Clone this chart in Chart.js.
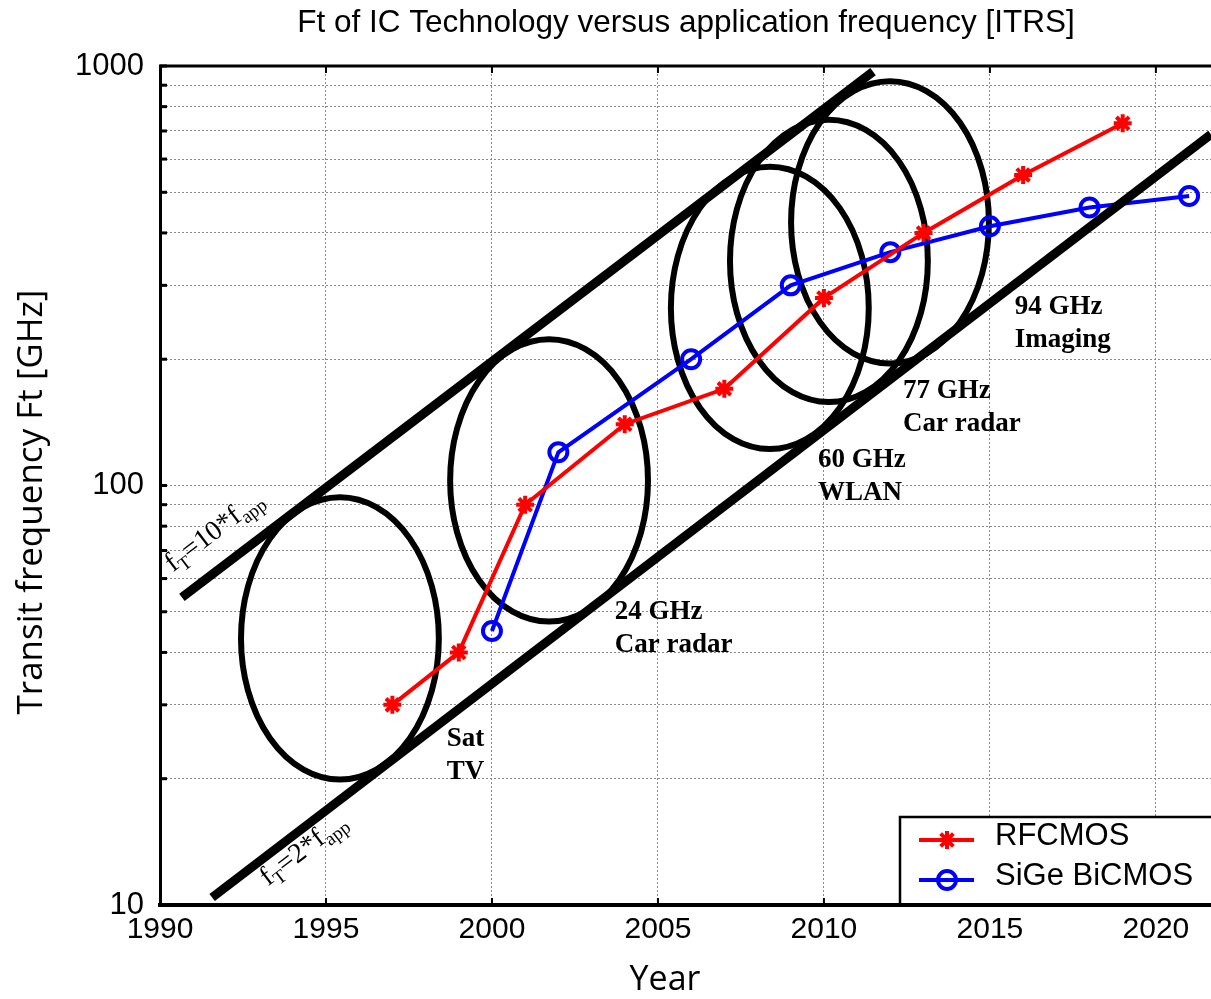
<!DOCTYPE html>
<html>
<head>
<meta charset="utf-8">
<title>Ft of IC Technology versus application frequency</title>
<script src="https://cdn.jsdelivr.net/npm/chart.js@4.4.1/dist/chart.umd.min.js"></script>
<style>
    html, body { margin: 0; padding: 0; background: #fff; }
    #wrap { width: 1211px; height: 999px; }
</style>
</head>
<body>
<div id="wrap"><canvas id="ftChart" width="1211" height="999"></canvas></div>
<script>
// ---- data ----
const rfYears = [1997, 1999, 2001, 2004, 2007, 2010, 2013, 2016, 2019];
const rfFt = [30, 40, 90, 140, 170, 280, 400, 550, 730];

const sigeYears = [2000, 2002, 2006, 2009, 2012, 2015, 2018, 2021];
const sigeFt = [45, 120, 200, 300, 360, 415, 460, 490];

// fT = 10*fapp and fT = 2*fapp guide lines (end points)
const upperYears = [1990.66, 2011.48];
const upperFt = [54.1, 970];
const lowerYears = [1991.57, 2021.66];
const lowerFt = [10.42, 687];

// application bands drawn as ellipses (centre year, centre Ft)
const bandYears = [1995.42, 2001.72, 2008.37, 2010.15, 2011.99];
const bandFt = [43.2, 102.8, 265, 343, 424];
const bandHalfYears = 2.98;
const bandSpread = 2.17;

// band labels
const bandText = [['Sat', 'TV'], ['24 GHz', 'Car radar'], ['60 GHz', 'WLAN'], ['77 GHz', 'Car radar'], ['94 GHz', 'Imaging']];
const bandTextYears = [1998.64, 2003.70, 2009.82, 2012.38, 2015.75];
const bandTextFt = [24.8, 50, 115, 168, 266];

// axes
const xTicks = [1990, 1995, 2000, 2005, 2010, 2015, 2020];
const yGrid = [10, 20, 30, 40, 50, 60, 70, 80, 90, 100, 200, 300, 400, 500, 600, 700, 800, 900, 1000];
const yTickLabels = [10, 100, 1000];

const SANS = '"Liberation Sans", Arial, sans-serif';
const SERIF = '"Liberation Serif", "Times New Roman", serif';

function drawStar(ctx, x, y, r) {
    for (let k = 0; k < 4; k++) {
        const a = k * Math.PI / 4;
        ctx.beginPath();
        ctx.moveTo(x - r * Math.cos(a), y - r * Math.sin(a));
        ctx.lineTo(x + r * Math.cos(a), y + r * Math.sin(a));
        ctx.stroke();
    }
}

const bandsPlugin = {
    id: 'bands',
    beforeDatasetsDraw(chart) {
        const { ctx, chartArea, scales: { x, y } } = chart;
        ctx.save();
        ctx.beginPath();
        ctx.rect(chartArea.left, chartArea.top, chartArea.width, chartArea.height);
        ctx.clip();
        ctx.strokeStyle = '#000';
        ctx.lineWidth = 6;
        bandYears.forEach((yr, i) => {
            const cx = x.getPixelForValue(yr);
            const cy = y.getPixelForValue(bandFt[i]);
            const rx = x.getPixelForValue(yr + bandHalfYears) - cx;
            const ry = cy - y.getPixelForValue(bandFt[i] * bandSpread);
            ctx.beginPath();
            ctx.ellipse(cx, cy, rx, ry, 0, 0, Math.PI * 2);
            ctx.stroke();
        });
        ctx.restore();
    },
    afterDatasetsDraw(chart) {
        const { ctx, scales: { x, y } } = chart;
        ctx.save();
        // band labels
        ctx.fillStyle = '#000';
        ctx.font = 'bold 27px ' + SERIF;
        ctx.textBaseline = 'middle';
        ctx.textAlign = 'left';
        bandText.forEach((lines, i) => {
            const px = x.getPixelForValue(bandTextYears[i]);
            const py = y.getPixelForValue(bandTextFt[i]);
            lines.forEach((t, j) => ctx.fillText(t, px, py + j * 33));
        });

        // rotated guide line labels
        const guideLabel = (years, ft, ax, af, factor) => {
            const x1 = x.getPixelForValue(years[0]), y1 = y.getPixelForValue(ft[0]);
            const x2 = x.getPixelForValue(years[1]), y2 = y.getPixelForValue(ft[1]);
            const ang = Math.atan2(y2 - y1, x2 - x1);
            ctx.save();
            ctx.translate(x.getPixelForValue(ax), y.getPixelForValue(af));
            ctx.rotate(ang);
            ctx.textBaseline = 'alphabetic';
            let cx = 0;
            const parts = [['f', 0], ['T', 1], ['=' + factor + '*f', 0], ['app', 1]];
            parts.forEach(([t, sub]) => {
                ctx.font = (sub ? '19px ' : '28px ') + SERIF;
                ctx.fillText(t, cx, sub ? 6 : 0);
                cx += ctx.measureText(t).width;
            });
            ctx.restore();
        };
        guideLabel(upperYears, upperFt, 1990.39, 62, '10');
        guideLabel(lowerYears, lowerFt, 1993.25, 11.07, '2');
        ctx.restore();
    },
    afterDraw(chart) {
        const { ctx, chartArea, scales: { x, y } } = chart;
        ctx.save();
        // top frame
        ctx.strokeStyle = '#000';
        ctx.lineWidth = 3;
        ctx.beginPath();
        ctx.moveTo(chartArea.left - 1, chartArea.top);
        ctx.lineTo(chartArea.right, chartArea.top);
        ctx.stroke();

        // inner tick marks
        ctx.lineWidth = 3;
        y.ticks.forEach(t => {
            const py = y.getPixelForValue(t.value);
            ctx.beginPath();
            ctx.moveTo(chartArea.left, py);
            ctx.lineTo(chartArea.left + 7, py);
            ctx.stroke();
        });
        ctx.lineWidth = 2;
        x.ticks.forEach(t => {
            const px = x.getPixelForValue(t.value);
            ctx.beginPath();
            ctx.moveTo(px, chartArea.bottom);
            ctx.lineTo(px, chartArea.bottom - 7);
            ctx.moveTo(px, chartArea.top);
            ctx.lineTo(px, chartArea.top + 7);
            ctx.stroke();
        });

        // titles
        ctx.fillStyle = '#000';
        ctx.textAlign = 'center';
        ctx.textBaseline = 'middle';
        ctx.font = '31.5px ' + SANS;
        ctx.fillText('Ft of IC Technology versus application frequency [ITRS]', 686, 23);
        ctx.font = '34px "Open Sans", sans-serif';
        ctx.fillText('Year', 665, 980);
        ctx.save();
        ctx.translate(32, 502);
        ctx.rotate(-Math.PI / 2);
        ctx.font = '35px "Open Sans", sans-serif';
        ctx.fillText('Transit frequency Ft [GHz]', 0, 0);
        ctx.restore();

        // legend, sitting on the x axis
        const lx = 900, ly = 817;
        const lb = chartArea.bottom - 2;
        ctx.fillStyle = '#fff';
        ctx.fillRect(lx, ly, chartArea.right - lx, lb - ly);
        ctx.strokeStyle = '#000';
        ctx.lineWidth = 2.5;
        ctx.beginPath();
        ctx.moveTo(lx, lb);
        ctx.lineTo(lx, ly);
        ctx.lineTo(chartArea.right, ly);
        ctx.stroke();
        const entries = [
            { text: 'RFCMOS', color: '#ff0000', star: true, y: 840 },
            { text: 'SiGe BiCMOS', color: '#0000ff', star: false, y: 880 }
        ];
        entries.forEach(e => {
            ctx.strokeStyle = e.color;
            ctx.lineWidth = 4;
            ctx.beginPath();
            ctx.moveTo(919, e.y);
            ctx.lineTo(974, e.y);
            ctx.stroke();
            if (e.star) {
                drawStar(ctx, 947, e.y, 9);
            } else {
                ctx.beginPath();
                ctx.arc(947, e.y, 9, 0, Math.PI * 2);
                ctx.stroke();
            }
            ctx.fillStyle = '#000';
            ctx.font = '31px ' + SANS;
            ctx.textAlign = 'left';
            ctx.fillText(e.text, 995, e.y - 4);
        });
        ctx.restore();
    }
};

const toPoints = (xs, ys) => xs.map((v, i) => ({ x: v, y: ys[i] }));

new Chart(document.getElementById('ftChart'), {
    type: 'line',
    data: {
        datasets: [
            {
                label: 'fT=10*fapp',
                data: toPoints(upperYears, upperFt),
                borderColor: '#000',
                borderWidth: 9,
                borderCapStyle: 'butt',
                pointRadius: 0,
                clip: 0,
                order: 0
            },
            {
                label: 'fT=2*fapp',
                data: toPoints(lowerYears, lowerFt),
                borderColor: '#000',
                borderWidth: 9,
                borderCapStyle: 'butt',
                pointRadius: 0,
                clip: 0,
                order: 0
            },
            {
                label: 'RFCMOS',
                data: toPoints(rfYears, rfFt),
                borderColor: '#ff0000',
                backgroundColor: '#ff0000',
                borderWidth: 4,
                pointStyle: 'star',
                pointRadius: 9,
                pointBorderWidth: 4,
                order: 1
            },
            {
                label: 'SiGe BiCMOS',
                data: toPoints(sigeYears, sigeFt),
                borderColor: '#0000ff',
                backgroundColor: 'rgba(0,0,0,0)',
                borderWidth: 4,
                pointStyle: 'circle',
                pointRadius: 9,
                pointBorderWidth: 4,
                order: 2
            }
        ]
    },
    options: {
        responsive: false,
        animation: false,
        layout: { autoPadding: false, padding: { top: 66, left: 0, right: 0, bottom: 0 } },
        plugins: {
            legend: { display: false },
            tooltip: { enabled: false },
            title: { display: false }
        },
        scales: {
            x: {
                type: 'linear',
                min: 1990,
                max: 2021.66,
                afterFit: s => { s.height = 94; s.paddingRight = 0; s.paddingLeft = 0; },
                afterBuildTicks: s => { s.ticks = xTicks.map(v => ({ value: v })); },
                ticks: {
                    color: '#000',
                    font: { family: SANS, size: 30 },
                    padding: 7,
                    maxRotation: 0,
                    autoSkip: false,
                    callback: v => String(v)
                },
                grid: { color: '#8a8a8a', lineWidth: 1, drawTicks: false },
                border: { display: true, color: '#000', width: 4, dash: [2, 2] }
            },
            y: {
                type: 'logarithmic',
                min: 10,
                max: 1000,
                afterFit: s => { s.width = 160; s.paddingTop = 0; s.paddingBottom = 0; },
                afterBuildTicks: s => { s.ticks = yGrid.map(v => ({ value: v, major: yTickLabels.includes(v) })); },
                ticks: {
                    color: '#000',
                    font: { family: SANS, size: 31 },
                    padding: 16,
                    autoSkip: false,
                    callback: v => yTickLabels.includes(v) ? String(v) : ''
                },
                grid: { color: '#8a8a8a', lineWidth: 1, drawTicks: false },
                border: { display: true, color: '#000', width: 3, dash: [2, 2] }
            }
        }
    },
    plugins: [bandsPlugin]
});
</script>
</body>
</html>
